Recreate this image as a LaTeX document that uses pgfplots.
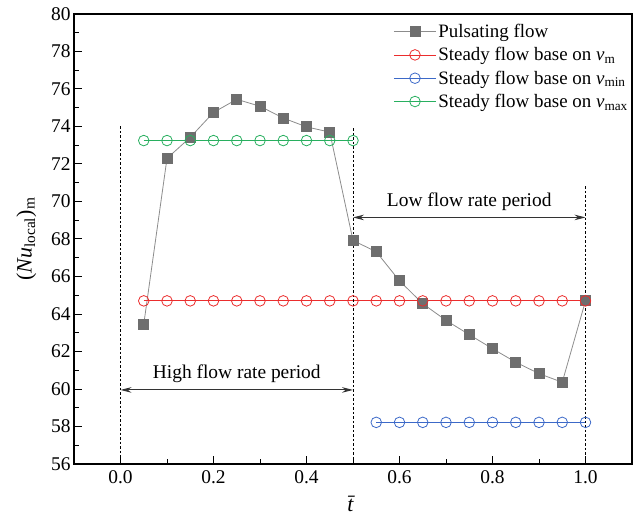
\documentclass[border=0pt]{standalone}
\usepackage{pgfplots}
\pgfplotsset{compat=1.18}
\usepackage{fontspec}
\setmainfont{Liberation Serif}
\usetikzlibrary{arrows.meta}
\definecolor{pgray}{RGB}{110,110,110}
\definecolor{lgray}{RGB}{140,140,140}
\definecolor{cred}{RGB}{235,45,45}
\definecolor{cblue}{RGB}{60,105,200}
\definecolor{cgreen}{RGB}{40,175,95}
\begin{document}
\begin{tikzpicture}
\path[use as bounding box] (-74bp,-62bp) rectangle (562bp,464bp);
\begin{axis}[
  scale only axis,
  width=558bp, height=450bp,
  xmin=-0.1, xmax=1.1, ymin=56, ymax=80,
  xtick={0,0.2,0.4,0.6,0.8,1.0},
  ytick={56,58,...,80},
  minor x tick num=1, minor y tick num=1,
  tick align=inside, tick pos=left,
  major tick length=8bp, minor tick length=5bp,
  axis line style={line width=1.2bp},
  every tick/.style={line width=1bp, black},
  /pgf/number format/assume math mode=true,
  tick label style={font=\fontsize{19.5}{22}\selectfont},
  xticklabel style={yshift=-3bp, /pgf/number format/.cd, fixed, fixed zerofill, precision=1},
  xlabel={\textit{\=t}},
  ylabel={(\textit{Nu}\textsubscript{local})\textsubscript{m}},
  label style={font=\fontsize{22}{25}\selectfont},
  xlabel style={yshift=-6bp},
  ylabel style={yshift=8bp},
  legend style={at={(rel axis cs:1,1)}, anchor=north east, draw=none, fill=none,
    font=\fontsize{19}{22}\selectfont, row sep=4.5bp, inner sep=2bp, yshift=-6bp},
  legend cell align=left,
  legend image code/.code={\draw[mark repeat=2,mark phase=2,#1] plot coordinates {(0bp,0bp)(21bp,0bp)(42bp,0bp)};},
]
\addplot[lgray, line width=0.8bp, mark=square*, mark size=5bp, mark options={fill=pgray, draw=pgray}] coordinates {
(0.05,63.45) (0.10,72.3) (0.15,73.42) (0.20,74.75) (0.25,75.45) (0.30,75.08) (0.35,74.45) (0.40,73.98) (0.45,73.7) (0.50,67.92)
(0.55,67.32) (0.60,65.77) (0.65,64.55) (0.70,63.66) (0.75,62.9) (0.80,62.15) (0.85,61.43) (0.90,60.82) (0.95,60.36) (1.00,64.7)};
\addlegendentry{Pulsating flow}
\addplot[cred, line width=0.8bp, mark=o, mark size=5.3bp, mark options={fill=white}] coordinates {
(0.05,64.7) (0.10,64.7) (0.15,64.7) (0.20,64.7) (0.25,64.7) (0.30,64.7) (0.35,64.7) (0.40,64.7) (0.45,64.7) (0.50,64.7)
(0.55,64.7) (0.60,64.7) (0.65,64.7) (0.70,64.7) (0.75,64.7) (0.80,64.7) (0.85,64.7) (0.90,64.7) (0.95,64.7) (1.00,64.7)};
\addlegendentry{Steady flow base on \textit{v}\textsubscript{m}}
\addplot[cblue, line width=0.8bp, mark=o, mark size=5.3bp, mark options={fill=white}] coordinates {
(0.55,58.22) (0.60,58.22) (0.65,58.22) (0.70,58.22) (0.75,58.22) (0.80,58.22) (0.85,58.22) (0.90,58.22) (0.95,58.22) (1.00,58.22)};
\addlegendentry{Steady flow base on \textit{v}\textsubscript{min}}
\addplot[cgreen, line width=0.8bp, mark=o, mark size=5.3bp, mark options={fill=white}] coordinates {
(0.05,73.25) (0.10,73.25) (0.15,73.25) (0.20,73.25) (0.25,73.25) (0.30,73.25) (0.35,73.25) (0.40,73.25) (0.45,73.25) (0.50,73.25)};
\addlegendentry{Steady flow base on \textit{v}\textsubscript{max}}
\draw[line width=0.8bp, dash pattern=on 2.5bp off 2bp] (axis cs:0,74) -- (axis cs:0,56);
\draw[line width=0.8bp, dash pattern=on 2.5bp off 2bp] (axis cs:0.5,73.9) -- (axis cs:0.5,56);
\draw[line width=0.8bp, dash pattern=on 2.5bp off 2bp] (axis cs:1.0,70.8) -- (axis cs:1.0,56);
\draw[{Stealth[length=11bp,width=5.5bp]}-{Stealth[length=11bp,width=5.5bp]}, line width=1bp, black!80] (axis cs:0,59.95) -- (axis cs:0.5,59.95);
\draw[{Stealth[length=11bp,width=5.5bp]}-{Stealth[length=11bp,width=5.5bp]}, line width=1bp, black!80] (axis cs:0.5,69.15) -- (axis cs:1.0,69.15);
\node[font=\fontsize{19.5}{22}\selectfont, anchor=base] at (axis cs:0.25,60.55) {High flow rate period};
\node[font=\fontsize{19.5}{22}\selectfont, anchor=base] at (axis cs:0.75,69.75) {Low flow rate period};
\end{axis}
\end{tikzpicture}
\end{document}
